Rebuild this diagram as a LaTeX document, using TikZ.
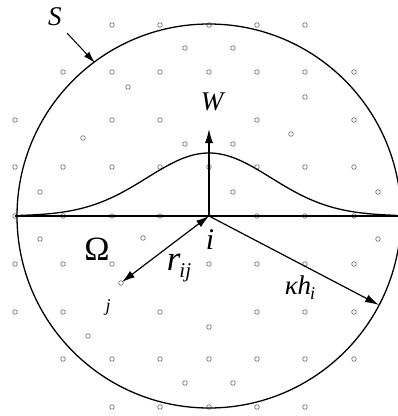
\documentclass[tikz,border=0pt]{standalone}
\usepackage{fontspec}
\setmainfont{Liberation Serif}
\usetikzlibrary{arrows.meta}
\begin{document}
\begin{tikzpicture}[x=1pt,y=-1pt,
  dot/.style={draw=black!55,line width=0.7pt},
  ln/.style={line width=1.3pt},
  tip/.style={Latex[length=14pt,width=8pt]},
  arr/.style={line width=1.2pt,-{Latex[length=14pt,width=8pt]}},
  lbl/.style={inner sep=0pt}]
\useasboundingbox (0,0) rectangle (398,416);
% lattice dots
\foreach \y/\xs in {25/{112,160,209,257,305},
                    72/{63,112,160,209,257,305,354},
                    120/{15,112,160,257,354},
                    167/{15,63,112,160,209,257,305,354},
                    216/{15,63,112,160,257,305,354},
                    264/{15,63,112,209,257,305,354},
                    312/{15,63,160,257,305,354},
                    359/{63,112,160,209,257,305,354},
                    407/{112,160,209,257,305}}{
  \foreach \x in \xs { \draw[dot] (\x,\y) circle[radius=2.3pt]; }
}
\foreach \x/\y in {185/48,233/48,128/87,305/97,83/138,185/144,291/134,233/144,
                   40/192,233/192,378/192,40/239,143/238,378/239,121/283,88/336,
                   209/327,185/383,233/383}{
  \draw[dot] (\x,\y) circle[radius=2.3pt];
}
% support circle and axis
\coordinate (i) at (209,216);
\draw[ln] (i) circle[radius=192pt];
\coordinate (L) at (15,216);
\coordinate (R) at (398,216);
\draw[ln] (L) -- (R);
% kernel curve
\draw[ln] plot[domain=20:396,samples=120,smooth] (\x,{216-63*exp(-((\x-209)/62)^2/2)});
% W axis
\coordinate (Wtop) at (209,129);
\draw[arr] (i) -- (Wtop);
\node[lbl] (W) at (212,102) {\fontsize{27}{27}\selectfont\itshape W};
% S label
\node[lbl] (S) at (55,17) {\fontsize{27}{27}\selectfont\itshape S};
\coordinate (Sfrom) at (67,33);
\coordinate (Stip) at (95,63);
\draw[line width=1pt,-{Latex[length=12pt,width=7pt]}] (Sfrom) -- (Stip);
% Omega
\node[lbl] (Om) at (97,249) {\fontsize{34}{34}\selectfont Ω};
% r_ij
\coordinate (j) at (122,282);
\draw[line width=1.2pt,{Latex[length=13pt,width=8pt]}-{Latex[length=13pt,width=8pt]}] (i) -- (j);
\node[lbl] (rij) at (179,268) {\fontsize{35}{35}\selectfont\itshape r\kern-1pt\raisebox{-7pt}{\fontsize{21}{21}\selectfont ij}};
\node[lbl] (jl) at (108,307) {\fontsize{18}{18}\selectfont\itshape j};
\node[lbl] (il) at (210,240) {\fontsize{30}{30}\selectfont\itshape i};
% kappa h_i
\coordinate (K) at (379,305);
\draw[arr] (i) -- (K);
\node[lbl] (kh) at (300,288) {\fontsize{27}{27}\selectfont\itshape κh\kern-1pt\raisebox{-5pt}{\fontsize{18}{18}\selectfont i}};
\end{tikzpicture}
\end{document}
